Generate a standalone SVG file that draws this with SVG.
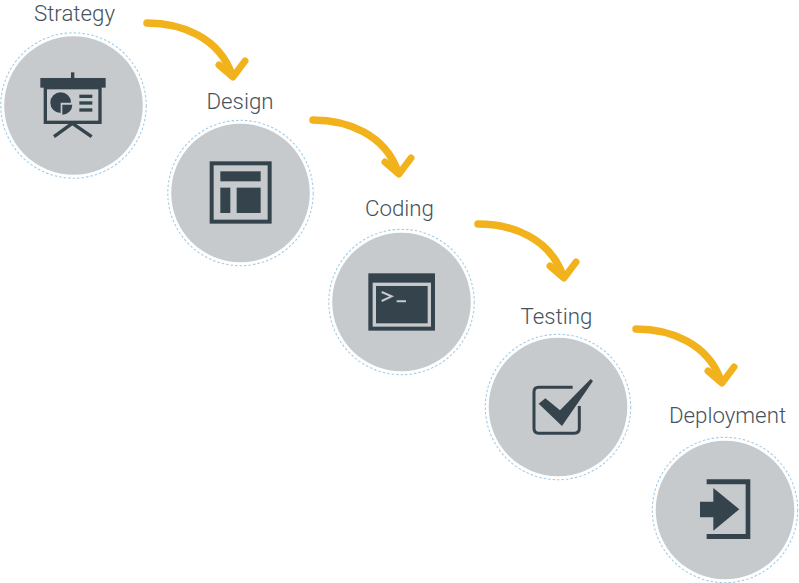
<svg xmlns="http://www.w3.org/2000/svg" xmlns:xlink="http://www.w3.org/1999/xlink" width="799" height="583" viewBox="0 0 799 583">
<style>
.disc{fill:#c7cacd}
.ring{fill:none;stroke:#a3cde8;stroke-width:1.1;stroke-dasharray:2.5 2}
.lbl{font-family:Roboto,"Liberation Sans",sans-serif;font-weight:300;font-size:22.3px;fill:#46535d;text-anchor:middle}
.ink{fill:#35434d}
.inkl{fill:none;stroke:#35434d}
.arw{fill:none;stroke:#f2b21c;stroke-linecap:round;stroke-linejoin:round}
</style>
<defs>
<g id="arrow">
<path class="arw" stroke-width="7.500" d="M0 0C34 0 72 14 85 52"/>
<path class="arw" stroke-width="7" d="M72 42L86 54L98 38"/>
</g>
</defs>
<rect width="799" height="583" fill="#fff"/>
<g id="connectors">
<use xlink:href="#arrow" href="#arrow" x="147" y="23"/>
<use xlink:href="#arrow" href="#arrow" x="313" y="120"/>
<use xlink:href="#arrow" href="#arrow" x="478" y="224"/>
<use xlink:href="#arrow" href="#arrow" x="636" y="329"/>
</g>
<g id="strategy">
<text class="lbl" x="74.500" y="20.500">Strategy</text>
<circle class="ring" cx="73.500" cy="105.500" r="72.700"/>
<circle class="disc" cx="73.500" cy="105.500" r="69.300"/>
<g transform="scale(0.3333)">
<rect class="ink" x="121" y="234" width="196" height="29"/>
<rect class="ink" x="213" y="217" width="10" height="20"/>
<rect class="inkl" x="136" y="263" width="164" height="104" stroke-width="10"/>
<path class="inkl" stroke-width="10" d="M162 410L217 370L275 410"/>
<path class="ink" d="M182 277A31 31 0 1 0 182 339V308H213A31 31 0 0 0 182 277Z"/>
<path class="ink" d="M187 314H217A30 30 0 0 1 187 344Z"/>
<rect class="ink" x="238" y="284" width="39" height="10"/>
<rect class="ink" x="238" y="304" width="39" height="10"/>
<rect class="ink" x="238" y="325" width="39" height="10"/>
</g>
</g>
<g id="design">
<text class="lbl" x="240" y="108.500">Design</text>
<circle class="ring" cx="240.500" cy="193" r="72.700"/>
<circle class="disc" cx="240.500" cy="193" r="69.300"/>
<g transform="translate(160 90) scale(0.3333)">
<rect class="inkl" x="155" y="220" width="174" height="175" stroke-width="12"/>
<rect class="ink" x="181" y="244" width="121" height="30"/>
<rect class="ink" x="181" y="293" width="30" height="76"/>
<rect class="ink" x="230" y="293" width="72" height="76"/>
</g>
</g>
<g id="coding">
<text class="lbl" x="399.500" y="215.500">Coding</text>
<circle class="ring" cx="401.500" cy="302" r="72.700"/>
<circle class="disc" cx="401.500" cy="302" r="69.300"/>
<g transform="translate(325 195) scale(0.3333)">
<rect class="ink" x="130" y="235" width="200" height="172"/>
<rect x="148" y="268" width="165" height="122" fill="none" stroke="#c7cacd" stroke-width="10"/>
<path d="M170 291L200 304L170 318M215 319H243" fill="none" stroke="#c7cacd" stroke-width="6"/>
</g>
</g>
<g id="testing">
<text class="lbl" x="556.500" y="323.500">Testing</text>
<circle class="ring" cx="558" cy="407" r="72.700"/>
<circle class="disc" cx="558" cy="407" r="69.300"/>
<g transform="translate(480 300) scale(0.3333)">
<path class="inkl" stroke-width="9" d="M278 262H176Q162 262 162 276V385Q162 400 176 400H283Q298 400 298 385V318"/>
<path class="ink" d="M176 311L196 295L240 331L332 237L339 243L246 378Z"/>
</g>
</g>
<g id="deployment">
<text class="lbl" x="727.500" y="422.500">Deployment</text>
<circle class="ring" cx="725" cy="510" r="72.700"/>
<circle class="disc" cx="725" cy="510" r="69.300"/>
<g transform="translate(640 400) scale(0.3333)">
<path class="ink" d="M200 238H331V417H200V402H317V253H200Z"/>
<path class="ink" d="M180 305H220V264L298 328L220 392V352H180Z"/>
</g>
</g>
</svg>
